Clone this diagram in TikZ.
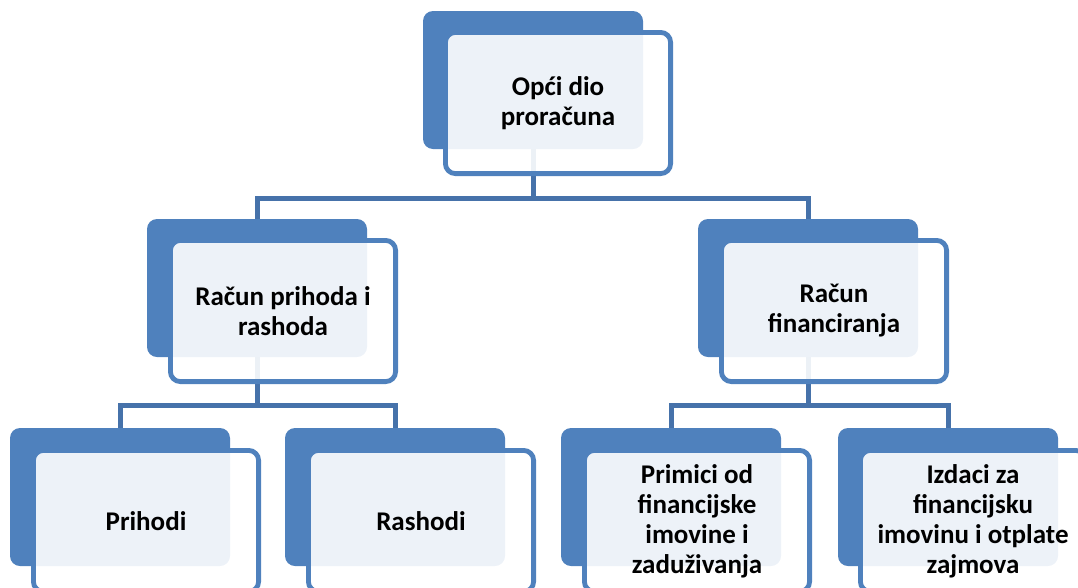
\documentclass[tikz,border=0pt]{standalone}
\usepackage{fontspec}
\setmainfont{Carlito}
\usepackage{xcolor}
\usepackage{tikz}
\usetikzlibrary{positioning}
\definecolor{boxblue}{RGB}{79,129,189}
\definecolor{linkblue}{RGB}{70,114,170}

\begin{document}
\begin{tikzpicture}[
  x=1pt, y=-1pt,
  back/.style={rectangle, rounded corners=10pt, fill=boxblue, draw=none,
    minimum width=220pt, minimum height=138pt, outer sep=0pt, anchor=north west},
  front/.style={rectangle, rounded corners=10pt, draw=boxblue, line width=4.8pt,
    fill=white, fill opacity=0.9, text opacity=1,
    minimum width=225.2pt, minimum height=141.2pt, align=center,
    font=\bfseries\fontsize{27}{30}\selectfont},
  conn/.style={draw=linkblue, line width=5pt}
]
\useasboundingbox (0,0) rectangle (1078,587);
\clip (0,0) rectangle (1078,587);

% back panels
\node[back] (top) at (423,11) {};
\node[back] (rpr) at (147,219) {};
\node[back] (rfi) at (698,219) {};
\node[back] (pri) at (10,428) {};
\node[back] (ras) at (285,428) {};
\node[back] (pod) at (561,428) {};
\node[back] (izd) at (838,428) {};

% links
\draw[conn] (top.south) -- ++(0,49) -| (rpr.north);
\draw[conn] (top.south) -- ++(0,49) -| (rfi.north);
\draw[conn] (rpr.south) -- ++(0,48) -| (pri.north);
\draw[conn] (rpr.south) -- ++(0,48) -| (ras.north);
\draw[conn] (rfi.south) -- ++(0,48) -| (pod.north);
\draw[conn] (rfi.south) -- ++(0,48) -| (izd.north);

% front panels
\node[front, below right=19pt and 20pt of top.north west] (topf) {Opći dio\\proračuna};
\node[front, below right=19pt and 21pt of rpr.north west] (rprf) {Račun prihoda i\\rashoda};
\node[front, below right=19pt and 21pt of rfi.north west] (rfif) {Račun\\financiranja};
\node[front, below right=20pt and 21pt of pri.north west] (prif) {Prihodi};
\node[front, below right=20pt and 21pt of ras.north west] (rasf) {Rashodi};
\node[front, below right=20pt and 21pt of pod.north west] (podf) {Primici od\\financijske\\imovine i\\zaduživanja};
\node[front, below right=20pt and 20pt of izd.north west] (izdf) {Izdaci za\\financijsku\\imovinu i otplate\\zajmova};
\end{tikzpicture}
\end{document}
